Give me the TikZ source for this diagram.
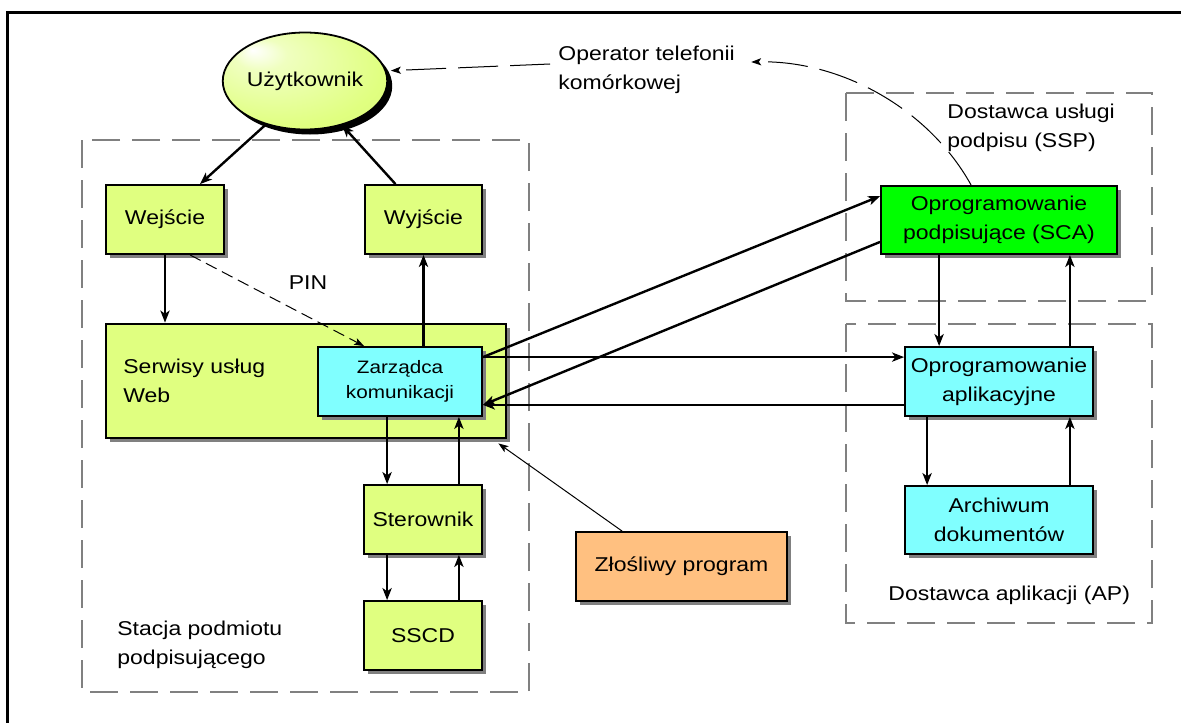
\documentclass[tikz,border=0pt]{standalone}
\usepackage{fontspec}
\setmainfont{Liberation Sans}[FakeStretch=1.15]
\usetikzlibrary{arrows.meta,shapes.geometric,shadows,calc}
\definecolor{zolty}{RGB}{224,255,128}
\definecolor{blekit}{RGB}{128,255,255}
\definecolor{zielony}{RGB}{0,255,0}
\definecolor{pomarancz}{RGB}{255,192,128}
\definecolor{szary}{RGB}{128,128,128}
\pgfdeclareradialshading{uzytgrad}{\pgfpoint{-16bp}{16bp}}{color(0bp)=(white); color(8bp)=(white!50!zolty); color(30bp)=(zolty); color(50bp)=(zolty!88!olive)}

\begin{document}
\begin{tikzpicture}[x=0.5pt,y=-0.5pt,>={Stealth[length=6pt,width=4.6pt,inset=1.6pt]},
  box/.style={draw,line width=0.9pt,fill=zolty,minimum width=59pt,minimum height=34.5pt,inner sep=0pt,align=center,
    font=\fontsize{10}{14.5}\selectfont,drop shadow={shadow xshift=2pt,shadow yshift=-2pt,fill=szary,opacity=1}},
  obszar/.style={draw=szary,line width=0.8pt,dash pattern=on 14pt off 6pt},
  opis/.style={align=left,inner sep=0pt,font=\fontsize{10}{14.5}\selectfont},
  strz/.style={->,line width=1.2pt},
  cienka/.style={->,line width=0.5pt,>={Stealth[length=5pt,width=3.6pt,inset=1.2pt]}}]
\clip (0,0) rectangle (1181,722);
\draw[line width=1.5pt] (7,740) |- (1200,13);

% obszary
\draw[obszar] (82,140) rectangle (529,692);
\draw[obszar] (846,93) rectangle (1152,301);
\draw[obszar] (846,324) rectangle (1152,623);

\node[ellipse,draw,line width=0.9pt,minimum width=72pt,minimum height=48.5pt,inner sep=0pt,shading=uzytgrad,
  drop shadow={shadow xshift=2.5pt,shadow yshift=-2.5pt,fill=black,opacity=1},
  font=\fontsize{10}{14.5}\selectfont] (uzyt) at (305,81) {Użytkownik};

\node[box] (wej) at (165,219.5) {Wejście};
\node[box,minimum width=58.5pt] (wyj) at (423.5,219.5) {Wyjście};
\node[box,minimum width=200pt,minimum height=57pt,line width=1.4pt] (serw) at (306,381) {};
\node[opis,anchor=west] (serwopis) at (123,381) {Serwisy usług\\Web};
\node[box,fill=blekit,minimum width=82pt,font=\fontsize{9}{12.5}\selectfont] (zarz) at (400,381.5) {Zarządca\\komunikacji};
\node[box] (ster) at (423,519.5) {Sterownik};
\node[box] (sscd) at (423,635.5) {SSCD};
\node[box,fill=pomarancz,minimum width=105.5pt] (zlos) at (681.5,566.5) {Złośliwy program};
\node[box,fill=zielony,minimum width=118pt,minimum height=34pt] (sca) at (999,220) {Oprogramowanie\\podpisujące (SCA)};
\node[box,fill=blekit,minimum width=94pt] (oapl) at (999,381.5) {Oprogramowanie\\aplikacyjne};
\node[box,fill=blekit,minimum width=94pt,minimum height=34pt] (arch) at (999,520) {Archiwum\\dokumentów};

\node[opis,anchor=west] (stacja) at (117,645) {Stacja podmiotu\\podpisującego};
\node[opis,anchor=west] (ssp) at (947,128) {Dostawca usługi\\podpisu (SSP)};
\node[opis,anchor=west] (ap) at (888,595) {Dostawca aplikacji (AP)};
\node[opis] (pin) at (308,283) {PIN};
\node[opis,anchor=west,inner sep=3pt] (oper) at (552,70) {Operator telefonii\\komórkowej};

% strzalki
\draw[strz] (uzyt.228) -- ($(wej.north)+(35,0)$);
\draw[strz] ($(wyj.north)+(-28,0)$) -- (uzyt.-50);
\draw[strz] (wej.south) -- (wej.south |- serw.north);
\draw[cienka,dash pattern=on 6pt off 3pt] ($(wej.south)+(25,0)$) -- ($(zarz.north west)+(47,0)$);
\draw[strz] (zarz.north -| wyj.south) -- (wyj.south);
\coordinate (zwy) at ($(zarz.north east)+(0,11)$);
\draw[strz] (zwy) -- ($(sca.north west)+(0,11)$);
\draw[strz] (zwy) -- (zwy -| oapl.west);
\draw[strz] ($(sca.south west)+(0,-13)$) -- ($(zarz.south east)+(0,-12)$);
\draw[strz] ($(oapl.south west)+(0,-12)$) -- ($(zarz.south east)+(0,-12)$);
\draw[strz] ($(sca.south west)+(59,0)$) -- ($(oapl.north west)+(35,0)$);
\draw[strz] ($(oapl.north east)+(-24,0)$) -- ($(sca.south east)+(-48,0)$);
\draw[strz] ($(oapl.south west)+(23,0)$) -- ($(arch.north west)+(23,0)$);
\draw[strz] ($(arch.north east)+(-24,0)$) -- ($(oapl.south east)+(-24,0)$);
\draw[strz] ($(zarz.south west)+(70,0)$) -- ($(ster.north west)+(24,0)$);
\draw[strz] ($(ster.north east)+(-24,0)$) -- ($(zarz.south east)+(-24,0)$);
\draw[strz] ($(ster.south west)+(24,0)$) -- ($(sscd.north west)+(24,0)$);
\draw[strz] ($(sscd.north east)+(-24,0)$) -- ($(ster.south east)+(-24,0)$);
\draw[cienka] ($(zlos.north west)+(47,0)$) -- ($(serw.south east)+(-9,4)$);
\draw[cienka,dash pattern=on 20pt off 6pt] ($(sca.north west)+(91,0)$) .. controls +(-42,-76) and +(90,-2) .. ($(oper.east)+(10,-8)$);
\draw[cienka,dash pattern=on 20pt off 6pt] ($(oper.west)+(-2,-6)$) -- ($(uzyt.8)+(5,1)$);
\end{tikzpicture}
\end{document}
